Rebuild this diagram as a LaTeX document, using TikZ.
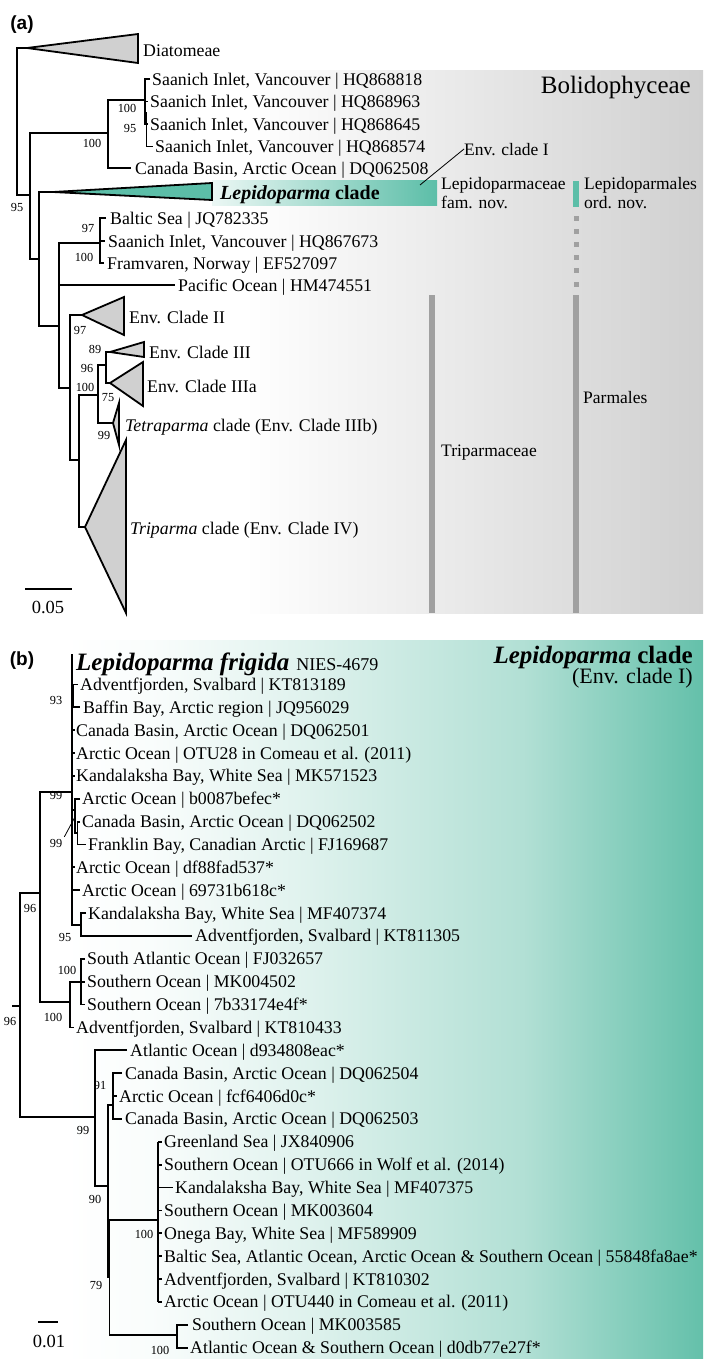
\documentclass[tikz,border=0pt]{standalone}
\usepackage{fontspec}
\setmainfont{Liberation Serif}
\newfontfamily\labfont{Liberation Sans}
\definecolor{tealc}{RGB}{92,190,168}
\definecolor{bgteal}{RGB}{100,192,170}
\definecolor{greybg}{RGB}{208,208,208}
\definecolor{trifill}{RGB}{208,208,208}
\definecolor{barg}{RGB}{160,160,160}
\pgfdeclarehorizontalshading{tealfade}{100bp}{color(0bp)=(white); color(25bp)=(white); color(32bp)=(bgteal!4!white); color(43bp)=(bgteal!19!white); color(61bp)=(bgteal!50!white); color(75bp)=(bgteal); color(100bp)=(bgteal)}
\pgfdeclarehorizontalshading{greyfade}{100bp}{color(0bp)=(white); color(25bp)=(white); color(37bp)=(white); color(75bp)=(greybg); color(100bp)=(greybg)}
\pgfdeclarehorizontalshading{barfade}{100bp}{color(0bp)=(tealc!12!white); color(25bp)=(tealc!12!white); color(75bp)=(tealc); color(100bp)=(tealc)}
\tikzset{
  br/.style={line width=1.8pt, line join=miter},
  tri/.style={line width=1.8pt, fill=trifill, line join=miter},
  leaf/.style={anchor=west, inner sep=0pt, text height=12pt, text depth=0pt, font=\fontsize{17.8}{20}\selectfont},
  bs/.style={inner sep=0pt, text height=8pt, text depth=0pt, font=\fontsize{12.3}{14}\selectfont},
  ann/.style={anchor=west, inner sep=0pt, text height=12pt, text depth=0pt, font=\fontsize{17.5}{20}\selectfont},
  panel/.style={inner sep=0pt, font=\labfont\bfseries\fontsize{19}{22}\selectfont},
  gbar/.style={fill=barg, draw=none},
}
\begin{document}
\begin{tikzpicture}[x=1pt,y=-1pt]
\useasboundingbox (0,0) rectangle (709,1363);
\fill[white] (0,0) rectangle (709,1363);
% ================= panel (a) =================
\shade[shading=greyfade] (100,70) rectangle (703,613);
\shade[shading=barfade] (212,180) rectangle (437,205);
\node[panel] (pa) at (22,25) {(a)};
% bars
\fill[tealc] (573,181) rectangle (579,207);
\foreach \yy in {218,231,244,257,270,284} \fill[barg] (573.5,\yy-2.5) rectangle (578.5,\yy+2.5);
\fill[barg] (573,295) rectangle (579,613);
\fill[barg] (429,295) rectangle (435,613);
% tree coordinates
\coordinate (Dap) at (27,48);
\coordinate (R) at (17,120);
\coordinate (n95) at (30,195);
\coordinate (nS) at (108,133);
\coordinate (nL) at (39,259);
\coordinate (Lap) at (53,192);
\coordinate (n59) at (59,326);
\coordinate (nB) at (100,243);
\coordinate (n70) at (70,388);
\coordinate (IIap) at (82,315);
\coordinate (n79) at (79,460);
\coordinate (n98) at (98,395);
\coordinate (Trap) at (85,527);
\coordinate (n106) at (106,365);
\coordinate (Teap) at (113,423);
\coordinate (IIIap) at (110,352);
\coordinate (IIIaap) at (110,383);
% triangles
\draw[tri] (Dap) -- (138,34) -- (138,63) -- cycle;
\draw[tri, fill=tealc] (Lap) -- (212,183) -- (212,200) -- cycle;
\draw[tri] (IIap) -- (124,297) -- (124,335) -- cycle;
\draw[tri] (IIIap) -- (144,342) -- (144,357) -- cycle;
\draw[tri] (IIIaap) -- (143,362) -- (143,406) -- cycle;
\draw[tri] (Teap) -- (119,403) -- (119,445) -- cycle;
\draw[tri] (Trap) -- (126,440) -- (126,613) -- cycle;
% branches
\draw[br] (Dap) -| (R) |- (n95);
\draw[br] (nS) -| (n95) |- (nL);
\draw[br] (145,100) -| (nS) |- (131,168);
\draw[br] (150,79) -- (145,79) -- (145,124) -- (148,124);
\draw[br] (145,101.5) -- (148,101.5);
\draw[br] (146.5,112) -- (146.5,146.5) -- (153,146.5);
\draw[br] (Lap) -| (nL) |- (n59);
\draw[br] (nB) -| (n59) |- (n70);
\draw[br] (n59 |- 0,285) -- (175,285);
\draw[br] (106,218) -- (100,218) -- (100,263) -- (104,263);
\draw[br] (100,241) -- (105,241);
\draw[br] (IIap) -| (n70) |- (n79);
\draw[br] (n98) -| (n79) |- (Trap);
\draw[br] (n106) -| (n98) |- (Teap);
\draw[br] (IIIap) -| (n106) |- (IIIaap);
% leaf labels (a)
\node[leaf] (dia) at (143,50) {Diatomeae};
\node[leaf] (s1) at (152,79) {Saanich Inlet, Vancouver | HQ868818};
\node[leaf] (s2) at (150,101.5) {Saanich Inlet, Vancouver | HQ868963};
\node[leaf] (s3) at (150,124) {Saanich Inlet, Vancouver | HQ868645};
\node[leaf] (s4) at (155,146.5) {Saanich Inlet, Vancouver | HQ868574};
\node[leaf] (cb) at (135,168) {Canada Basin, Arctic Ocean | DQ062508};
\node[leaf, text height=14pt, font=\fontsize{20}{24}\selectfont\bfseries] (lc) at (220,192) {\textit{Lepidoparma} clade};
\node[leaf] (bs1) at (110,218) {Baltic Sea | JQ782335};
\node[leaf] (bs2) at (108,241) {Saanich Inlet, Vancouver | HQ867673};
\node[leaf] (bs3) at (107,263) {Framvaren, Norway | EF527097};
\node[leaf] (po) at (178,285) {Pacific Ocean | HM474551};
\node[leaf] (e2) at (129,317) {Env. Clade II};
\node[leaf] (e3) at (149,352) {Env. Clade III};
\node[leaf] (e3a) at (147,386) {Env. Clade IIIa};
\node[leaf] (te) at (125,425) {\textit{Tetraparma} clade (Env. Clade IIIb)};
\node[leaf] (tr) at (130,528) {\textit{Triparma} clade (Env. Clade IV)};
% bootstrap (a)
\node[bs] at (17,207) {95};
\node[bs] at (92,143) {100};
\node[bs] at (127,108) {100};
\node[bs] at (130,128) {95};
\node[bs] at (88,228) {97};
\node[bs] at (84,257) {100};
\node[bs] at (80,330) {97};
\node[bs] at (95,349) {89};
\node[bs] at (87,368) {96};
\node[bs] at (85,387) {100};
\node[bs] at (108,397) {75};
\node[bs] at (104,435) {99};
% annotations (a)
\node[anchor=east, inner sep=0pt, text height=17pt, text depth=0pt, font=\fontsize{25}{30}\selectfont] (bol) at (691,85) {Bolidophyceae};
\node[ann] (ec1) at (464,149) {Env. clade I};
\coordinate (ec1p) at (420,185);
\draw[line width=0.8pt] (ec1p) -- (ec1.west);
\node[ann] (lf1) at (441,183) {Lepidoparmaceae};
\node[ann] (lf2) at (441,202) {fam. nov.};
\node[ann] (lo1) at (584,183) {Lepidoparmales};
\node[ann] (lo2) at (584,202) {ord. nov.};
\node[ann] (trp) at (441,450) {Triparmaceae};
\node[ann] (par) at (583,397) {Parmales};
% scale (a)
\coordinate (sa1) at (25,589);
\coordinate (sa2) at (72,589);
\draw[line width=1.8pt] (sa1) -- (sa2);
\node[inner sep=0pt, text height=13pt, text depth=0pt, font=\fontsize{18.5}{20}\selectfont] (sal) at (48,607) {0.05};
% ================= panel (b) =================
\shade[shading=tealfade] (65,640) rectangle (703,1358);
\node[panel] (pb) at (22,661) {(b)};
\node[anchor=east, inner sep=0pt, text height=17pt, text depth=0pt, font=\fontsize{25}{30}\selectfont\bfseries] (lcb) at (693,655) {\textit{Lepidoparma} clade};
\node[anchor=east, inner sep=0pt, text height=15pt, text depth=0pt, font=\fontsize{22}{26}\selectfont] (lcb2) at (693,676) {(Env. clade I)};
% branches (b)
\draw[br] (72,654) -- (72,925) -- (81,925);
\draw[br] (78,684.4) -- (73.5,684.4) -- (73.5,707.2) -- (80,707.2);
\foreach \yy in {730.1,753.0,775.9,867.3} \draw[br] (72,\yy) -- (74.5,\yy);
\draw[br] (72,890.2) -- (80,890.2);
\draw[br] (72,810) -- (75,810);
\draw[br] (80,798.7) -- (75,798.7) -- (75,833) -- (77.5,833);
\draw[br] (80,821.6) -- (77.5,821.6) -- (77.5,844.5) -- (86,844.5);
\draw[br] (86,913.1) -- (81,913.1) -- (81,935.9) -- (192,935.9);
\draw[br] (72,792) -- (40,792) -- (40,1002) -- (70,1002);
\draw[br] (81,982) -- (70,982) -- (70,1027.4) -- (74,1027.4);
\draw[br] (85,958.8) -- (81,958.8) -- (81,1004.5) -- (85,1004.5);
\draw[br] (81,981.7) -- (85,981.7);
\draw[br] (40,893) -- (20,893) -- (20,1117) -- (95,1117);
\draw[br] (12,1006) -- (20,1006);
\draw[br] (127,1050.3) -- (95,1050.3) -- (95,1186) -- (108,1186);
\draw[br] (113,1105) -- (108,1105) -- (108,1278);
\draw[br] (122,1073.2) -- (113,1073.2) -- (113,1118.9) -- (122,1118.9);
\draw[br] (113,1096) -- (117,1096);
\draw[br] (158,1220) -- (109.5,1220) -- (109.5,1335) -- (177,1335);
\draw[br] (158,1141.8) -- (158,1301.8);
\foreach \yy in {1141.8,1164.6,1210.4,1233.2,1256.1,1279.0,1301.8} \draw[br] (158,\yy) -- (162,\yy);
\draw[br] (158,1187.5) -- (173,1187.5);
\draw[br] (188,1324.7) -- (177,1324.7) -- (177,1347.6) -- (188,1347.6);
% leaves (b)
\node[leaf, text height=17pt] (b1) at (76,661.5) {{\fontsize{25}{30}\selectfont\bfseries\itshape Lepidoparma frigida}\hspace{7pt}{\fontsize{18}{20}\selectfont NIES-4679}};
\node[leaf] (b2) at (80,684.4) {Adventfjorden, Svalbard | KT813189};
\node[leaf] (b3) at (83,707.2) {Baffin Bay, Arctic region | JQ956029};
\node[leaf] (b4) at (76,730.1) {Canada Basin, Arctic Ocean | DQ062501};
\node[leaf] (b5) at (76,753.0) {Arctic Ocean | OTU28 in Comeau et al. (2011)};
\node[leaf] (b6) at (76,775.9) {Kandalaksha Bay, White Sea | MK571523};
\node[leaf] (b7) at (82,798.7) {Arctic Ocean | b0087befec*};
\node[leaf] (b8) at (82,821.6) {Canada Basin, Arctic Ocean | DQ062502};
\node[leaf] (b9) at (88,844.5) {Franklin Bay, Canadian Arctic | FJ169687};
\node[leaf] (b10) at (76,867.3) {Arctic Ocean | df88fad537*};
\node[leaf] (b11) at (82,890.2) {Arctic Ocean | 69731b618c*};
\node[leaf] (b12) at (88,913.1) {Kandalaksha Bay, White Sea | MF407374};
\node[leaf] (b13) at (195,935.9) {Adventfjorden, Svalbard | KT811305};
\node[leaf] (b14) at (87,958.8) {South Atlantic Ocean | FJ032657};
\node[leaf] (b15) at (87,981.7) {Southern Ocean | MK004502};
\node[leaf] (b16) at (87,1004.5) {Southern Ocean | 7b33174e4f*};
\node[leaf] (b17) at (76,1027.4) {Adventfjorden, Svalbard | KT810433};
\node[leaf] (b18) at (130,1050.3) {Atlantic Ocean | d934808eac*};
\node[leaf] (b19) at (125,1073.2) {Canada Basin, Arctic Ocean | DQ062504};
\node[leaf] (b20) at (119,1096.0) {Arctic Ocean | fcf6406d0c*};
\node[leaf] (b21) at (125,1118.9) {Canada Basin, Arctic Ocean | DQ062503};
\node[leaf] (b22) at (164,1141.8) {Greenland Sea | JX840906};
\node[leaf] (b23) at (164,1164.6) {Southern Ocean | OTU666 in Wolf et al. (2014)};
\node[leaf] (b24) at (175,1187.5) {Kandalaksha Bay, White Sea | MF407375};
\node[leaf] (b25) at (164,1210.4) {Southern Ocean | MK003604};
\node[leaf] (b26) at (164,1233.2) {Onega Bay, White Sea | MF589909};
\node[leaf] (b27) at (164,1256.1) {Baltic Sea, Atlantic Ocean, Arctic Ocean \& Southern Ocean | 55848fa8ae*};
\node[leaf] (b28) at (164,1279.0) {Adventfjorden, Svalbard | KT810302};
\node[leaf] (b29) at (164,1301.8) {Arctic Ocean | OTU440 in Comeau et al. (2011)};
\node[leaf] (b30) at (192,1324.7) {Southern Ocean | MK003585};
\node[leaf] (b31) at (190,1347.6) {Atlantic Ocean \& Southern Ocean | d0db77e27f*};
% bootstrap (b)
\node[bs] at (56,700) {93};
\node[bs] (l99a) at (56,795) {99};
\node[bs] (l99b) at (56,843) {99};
\coordinate (n99b) at (75,817);
\draw[line width=0.8pt] (l99b.north east) ++(2,-2) -- (n99b);
\node[bs] at (30,908) {96};
\node[bs] at (65,937) {95};
\node[bs] at (67,970) {100};
\node[bs] at (53,1017) {100};
\node[bs] at (10,1021) {96};
\node[bs] at (100,1085) {91};
\node[bs] at (83,1130) {99};
\node[bs] at (95,1199) {90};
\node[bs] at (144,1234) {100};
\node[bs] at (96,1285) {79};
\node[bs] at (160,1350) {100};
% scale (b)
\coordinate (sb1) at (38,1322);
\coordinate (sb2) at (58,1322);
\draw[line width=1.8pt] (sb1) -- (sb2);
\node[inner sep=0pt, text height=13pt, text depth=0pt, font=\fontsize{18.5}{20}\selectfont] (sbl) at (49,1341) {0.01};
\end{tikzpicture}
\end{document}
